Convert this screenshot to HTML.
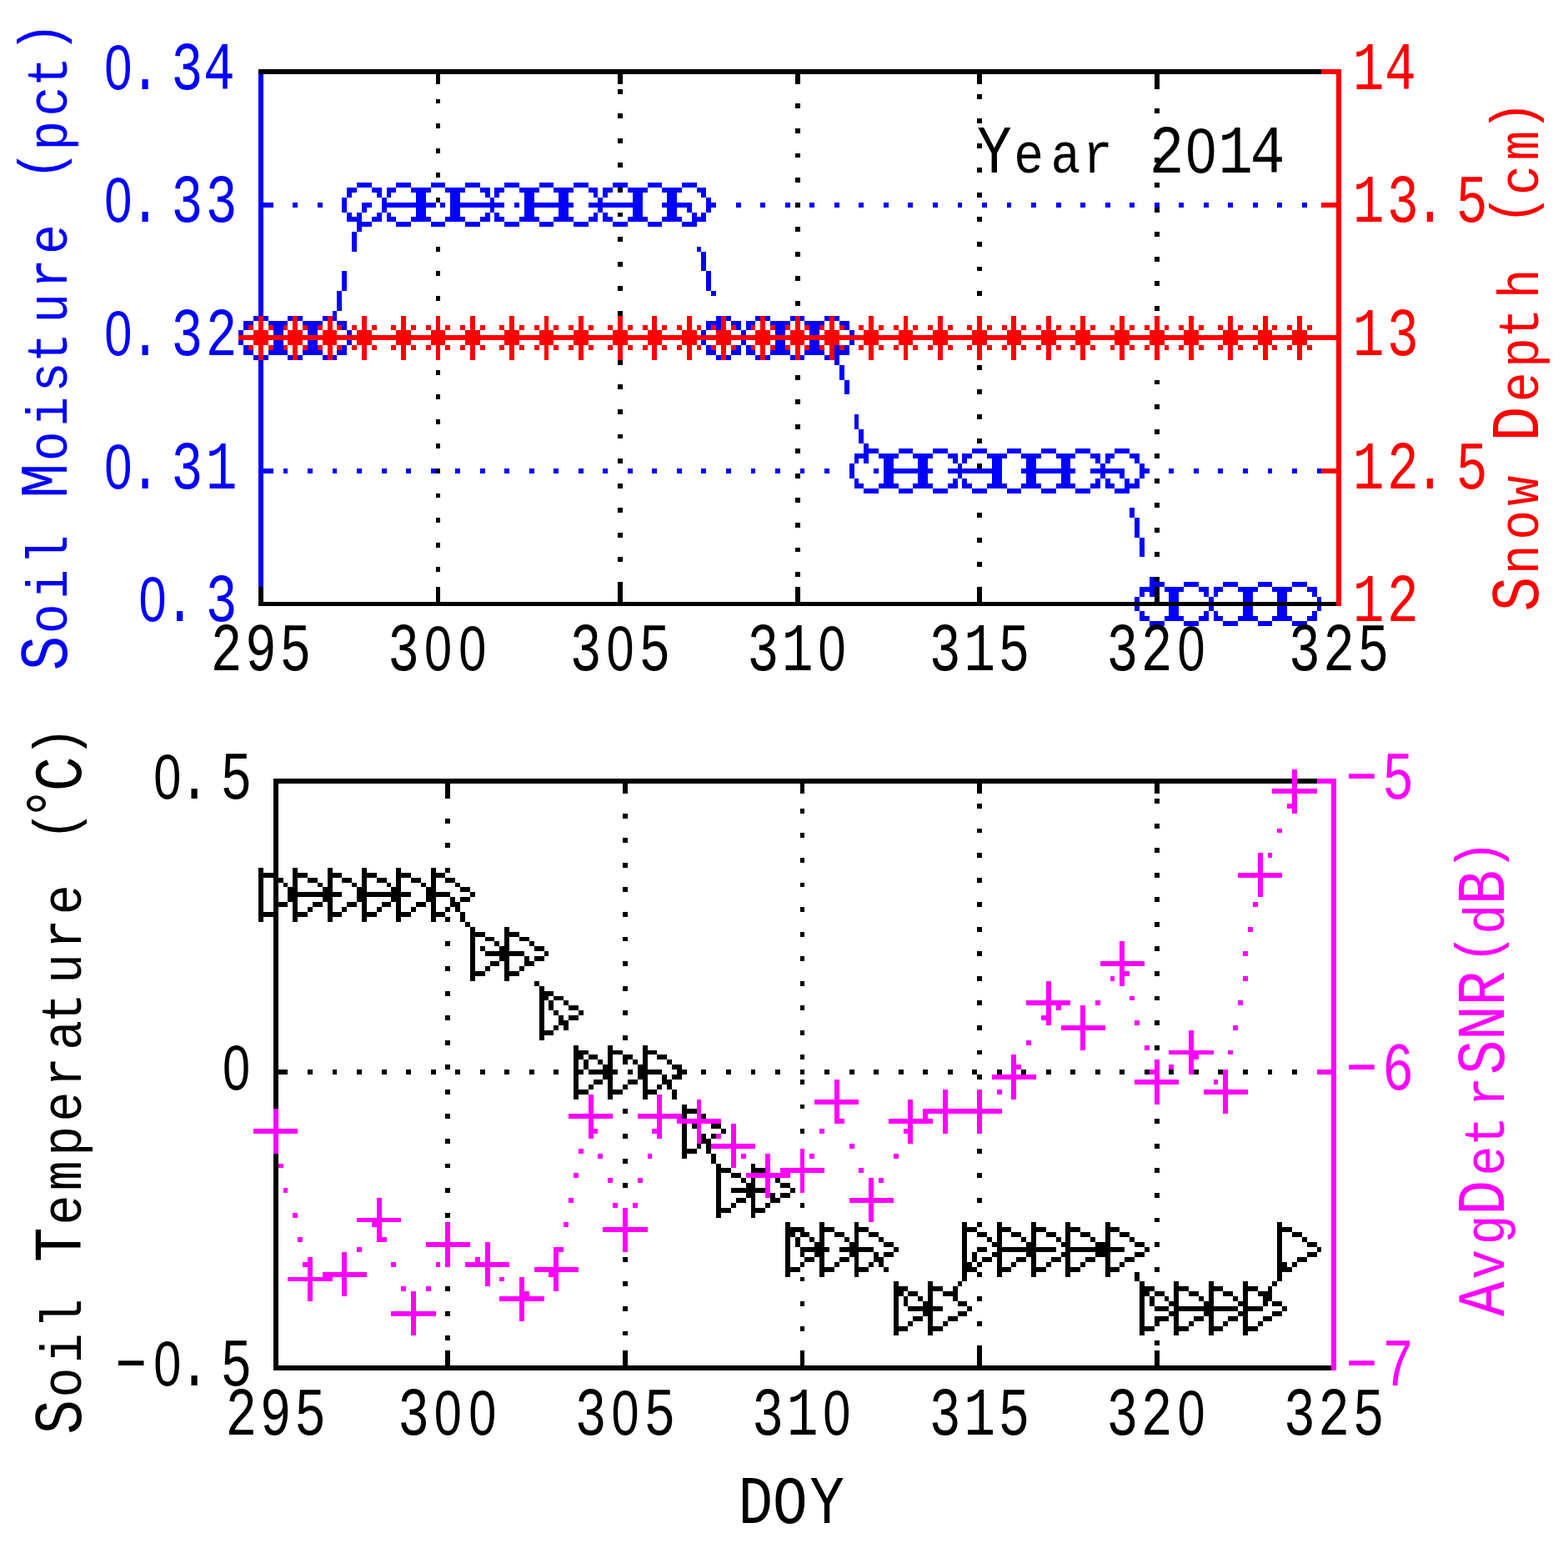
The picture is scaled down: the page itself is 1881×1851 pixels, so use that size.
<!DOCTYPE html>
<html><head><meta charset="utf-8"><style>
html,body{margin:0;padding:0;background:#fff;}
svg{display:block;}
text{font-family:"Liberation Mono",monospace;font-size:13.66px;white-space:pre;}
</style></head><body>
<svg xmlns="http://www.w3.org/2000/svg" width="1881" height="1851" viewBox="0 0 1881 1851">
<rect width="1881" height="1851" fill="#fff"/>
<g shape-rendering="crispEdges">
<path fill="#000" d="M310 83h1275v6h-1275zM523 89h5v6h-5zM741 89h6v6h-6zM954 89h6v6h-6zM1172 89h6v6h-6zM1385 89h6v6h-6zM523 95h5v6h-5zM741 95h6v6h-6zM954 95h6v6h-6zM1172 95h6v6h-6zM1385 95h6v6h-6zM1385 101h6v6h-6zM741 107h6v6h-6zM1172 113h6v6h-6zM523 119h5v5h-5zM954 124h6v6h-6zM1385 130h6v6h-6zM741 136h6v6h-6zM1172 142h6v6h-6zM523 148h5v6h-5zM954 154h6v6h-6zM1385 160h6v6h-6zM741 166h6v6h-6zM1172 172h6v6h-6zM523 178h5v6h-5zM954 184h6v5h-6zM1385 189h6v6h-6zM741 195h6v6h-6zM1172 201h6v6h-6zM523 207h5v6h-5zM954 213h6v6h-6zM1385 219h6v6h-6zM741 225h6v6h-6zM1172 231h6v6h-6zM523 237h5v6h-5zM954 243h6v6h-6zM1385 249h6v6h-6zM741 255h6v5h-6zM1172 260h6v6h-6zM954 272h6v6h-6zM1385 278h6v6h-6zM741 284h6v6h-6zM1172 290h6v6h-6zM523 296h5v6h-5zM954 302h6v6h-6zM1385 308h6v6h-6zM741 314h6v6h-6zM1172 320h6v5h-6zM523 325h5v6h-5zM954 331h6v6h-6zM1385 337h6v6h-6zM741 343h6v6h-6zM1172 349h6v6h-6zM523 355h5v6h-5zM954 361h6v6h-6zM1385 367h6v6h-6zM741 373h6v6h-6zM741 432h6v6h-6zM1172 438h6v6h-6zM523 444h5v6h-5zM954 450h6v6h-6zM1385 456h6v5h-6zM741 461h6v6h-6zM1172 467h6v6h-6zM523 473h5v6h-5zM954 479h6v6h-6zM1385 485h6v6h-6zM741 491h6v6h-6zM1172 497h6v6h-6zM523 503h5v6h-5zM954 509h6v6h-6zM1385 515h6v6h-6zM741 521h6v5h-6zM1172 526h6v6h-6zM523 532h5v6h-5zM954 538h6v6h-6zM1385 544h6v6h-6zM741 550h6v6h-6zM1172 556h6v6h-6zM523 562h5v6h-5zM954 568h6v6h-6zM1385 574h6v6h-6zM741 580h6v6h-6zM523 592h5v5h-5zM954 597h6v6h-6zM1385 603h6v6h-6zM741 609h6v6h-6zM1172 615h6v6h-6zM523 621h5v6h-5zM954 627h6v6h-6zM1385 633h6v6h-6zM741 639h6v6h-6zM1172 645h6v6h-6zM523 651h5v6h-5zM954 657h6v5h-6zM1385 662h6v6h-6zM741 668h6v6h-6zM1172 674h6v6h-6zM523 680h5v6h-5zM954 686h6v6h-6zM1385 692h6v6h-6zM741 698h6v6h-6zM310 704h6v6h-6zM523 704h5v6h-5zM741 704h6v6h-6zM954 704h6v6h-6zM1172 704h6v6h-6zM1385 704h6v6h-6zM310 710h6v6h-6zM523 710h5v6h-5zM741 710h6v6h-6zM954 710h6v6h-6zM1172 710h6v6h-6zM1385 710h6v6h-6zM310 716h6v6h-6zM523 716h5v6h-5zM741 716h6v6h-6zM954 716h6v6h-6zM1172 716h6v6h-6zM1385 716h6v6h-6zM310 722h1293v5h-1293zM328 934h1222v6h-1222zM1556 934h24v6h-24zM328 940h6v6h-6zM534 940h6v6h-6zM747 940h6v6h-6zM960 940h5v6h-5zM1172 940h6v6h-6zM1385 940h6v6h-6zM328 946h6v6h-6zM534 946h6v6h-6zM747 946h6v6h-6zM960 946h5v6h-5zM1172 946h6v6h-6zM1385 946h6v6h-6zM328 952h6v6h-6zM534 952h6v6h-6zM328 958h6v6h-6zM1385 958h6v6h-6zM328 964h6v6h-6zM1172 964h6v6h-6zM328 970h6v6h-6zM960 970h5v6h-5zM328 976h6v6h-6zM747 976h6v6h-6zM328 982h6v6h-6zM534 982h6v6h-6zM328 988h6v6h-6zM1385 988h6v6h-6zM328 994h6v5h-6zM1172 994h6v5h-6zM328 999h6v6h-6zM960 999h5v6h-5zM328 1005h6v6h-6zM747 1005h6v6h-6zM328 1011h6v6h-6zM534 1011h6v6h-6zM328 1017h6v6h-6zM1385 1017h6v6h-6zM328 1023h6v6h-6zM1172 1023h6v6h-6zM328 1029h6v6h-6zM960 1029h5v6h-5zM328 1035h6v6h-6zM747 1035h6v6h-6zM310 1041h6v6h-6zM328 1041h6v6h-6zM351 1041h6v6h-6zM393 1041h6v6h-6zM434 1041h6v6h-6zM475 1041h6v6h-6zM517 1041h6v6h-6zM534 1041h6v6h-6zM310 1047h24v6h-24zM351 1047h18v6h-18zM393 1047h17v6h-17zM434 1047h18v6h-18zM475 1047h18v6h-18zM517 1047h17v6h-17zM1385 1047h6v6h-6zM310 1053h6v6h-6zM328 1053h12v6h-12zM351 1053h6v6h-6zM369 1053h12v6h-12zM393 1053h6v6h-6zM410 1053h12v6h-12zM434 1053h6v6h-6zM452 1053h12v6h-12zM475 1053h6v6h-6zM493 1053h12v6h-12zM517 1053h6v6h-6zM534 1053h12v6h-12zM1172 1053h6v6h-6zM310 1059h6v5h-6zM328 1059h6v5h-6zM340 1059h5v5h-5zM351 1059h6v5h-6zM381 1059h6v5h-6zM393 1059h6v5h-6zM422 1059h6v5h-6zM434 1059h6v5h-6zM464 1059h5v5h-5zM475 1059h6v5h-6zM505 1059h6v5h-6zM517 1059h6v5h-6zM546 1059h6v5h-6zM960 1059h5v5h-5zM310 1064h6v6h-6zM328 1064h6v6h-6zM345 1064h12v6h-12zM387 1064h12v6h-12zM428 1064h12v6h-12zM469 1064h12v6h-12zM511 1064h12v6h-12zM552 1064h12v6h-12zM747 1064h6v6h-6zM310 1070h6v6h-6zM328 1070h6v6h-6zM345 1070h65v6h-65zM428 1070h65v6h-65zM511 1070h29v6h-29zM564 1070h6v6h-6zM310 1076h6v6h-6zM328 1076h6v6h-6zM345 1076h12v6h-12zM387 1076h12v6h-12zM428 1076h12v6h-12zM469 1076h12v6h-12zM511 1076h12v6h-12zM540 1076h6v6h-6zM552 1076h12v6h-12zM1385 1076h6v6h-6zM310 1082h6v6h-6zM328 1082h17v6h-17zM351 1082h6v6h-6zM375 1082h12v6h-12zM393 1082h6v6h-6zM416 1082h12v6h-12zM434 1082h6v6h-6zM458 1082h11v6h-11zM475 1082h6v6h-6zM499 1082h12v6h-12zM517 1082h6v6h-6zM540 1082h12v6h-12zM1172 1082h6v6h-6zM310 1088h6v6h-6zM328 1088h6v6h-6zM351 1088h6v6h-6zM369 1088h6v6h-6zM393 1088h6v6h-6zM410 1088h6v6h-6zM434 1088h6v6h-6zM452 1088h6v6h-6zM475 1088h6v6h-6zM493 1088h6v6h-6zM517 1088h6v6h-6zM534 1088h6v6h-6zM546 1088h6v6h-6zM960 1088h5v6h-5zM310 1094h24v6h-24zM351 1094h18v6h-18zM393 1094h17v6h-17zM434 1094h18v6h-18zM475 1094h18v6h-18zM517 1094h17v6h-17zM552 1094h6v6h-6zM747 1094h6v6h-6zM310 1100h6v6h-6zM328 1100h6v6h-6zM351 1100h6v6h-6zM393 1100h6v6h-6zM434 1100h6v6h-6zM475 1100h6v6h-6zM517 1100h6v6h-6zM534 1100h6v6h-6zM552 1100h6v6h-6zM328 1106h6v6h-6zM558 1106h6v6h-6zM1385 1106h6v6h-6zM328 1112h6v6h-6zM564 1112h6v6h-6zM605 1112h6v6h-6zM1172 1112h6v6h-6zM328 1118h6v6h-6zM564 1118h18v6h-18zM605 1118h18v6h-18zM960 1118h5v6h-5zM328 1124h6v5h-6zM564 1124h6v5h-6zM582 1124h11v5h-11zM605 1124h6v5h-6zM623 1124h12v5h-12zM747 1124h6v5h-6zM328 1129h6v6h-6zM534 1129h6v6h-6zM564 1129h6v6h-6zM593 1129h6v6h-6zM605 1129h6v6h-6zM635 1129h6v6h-6zM328 1135h6v6h-6zM564 1135h6v6h-6zM576 1135h6v6h-6zM599 1135h12v6h-12zM641 1135h12v6h-12zM1385 1135h6v6h-6zM328 1141h6v6h-6zM564 1141h6v6h-6zM582 1141h47v6h-47zM653 1141h5v6h-5zM1172 1141h6v6h-6zM328 1147h6v6h-6zM564 1147h6v6h-6zM599 1147h12v6h-12zM629 1147h6v6h-6zM641 1147h12v6h-12zM960 1147h5v6h-5zM328 1153h6v6h-6zM564 1153h6v6h-6zM588 1153h11v6h-11zM605 1153h6v6h-6zM629 1153h12v6h-12zM747 1153h6v6h-6zM328 1159h6v6h-6zM534 1159h6v6h-6zM564 1159h6v6h-6zM582 1159h6v6h-6zM605 1159h6v6h-6zM623 1159h6v6h-6zM328 1165h6v6h-6zM564 1165h18v6h-18zM605 1165h18v6h-18zM1385 1165h6v6h-6zM328 1171h6v6h-6zM564 1171h6v6h-6zM605 1171h6v6h-6zM1172 1171h6v6h-6zM328 1177h6v6h-6zM641 1177h6v6h-6zM960 1177h5v6h-5zM328 1183h6v6h-6zM647 1183h6v6h-6zM747 1183h6v6h-6zM328 1189h6v6h-6zM534 1189h6v6h-6zM647 1189h17v6h-17zM328 1195h6v5h-6zM647 1195h11v5h-11zM664 1195h12v5h-12zM1385 1195h6v5h-6zM328 1200h6v6h-6zM647 1200h6v6h-6zM658 1200h6v6h-6zM676 1200h6v6h-6zM1172 1200h6v6h-6zM328 1206h6v6h-6zM647 1206h6v6h-6zM658 1206h6v6h-6zM682 1206h12v6h-12zM960 1206h5v6h-5zM328 1212h6v6h-6zM647 1212h6v6h-6zM664 1212h6v6h-6zM694 1212h6v6h-6zM747 1212h6v6h-6zM328 1218h6v6h-6zM534 1218h6v6h-6zM647 1218h6v6h-6zM670 1218h6v6h-6zM682 1218h12v6h-12zM328 1224h6v6h-6zM647 1224h6v6h-6zM670 1224h12v6h-12zM1385 1224h6v6h-6zM328 1230h6v6h-6zM647 1230h6v6h-6zM664 1230h6v6h-6zM676 1230h6v6h-6zM1172 1230h6v6h-6zM328 1236h6v6h-6zM647 1236h17v6h-17zM960 1236h5v6h-5zM328 1242h6v6h-6zM647 1242h6v6h-6zM747 1242h6v6h-6zM328 1248h6v6h-6zM534 1248h6v6h-6zM328 1254h6v6h-6zM688 1254h6v6h-6zM729 1254h6v6h-6zM771 1254h6v6h-6zM1385 1254h6v6h-6zM328 1260h6v5h-6zM688 1260h18v5h-18zM729 1260h18v5h-18zM771 1260h17v5h-17zM1172 1260h6v5h-6zM328 1265h6v6h-6zM688 1265h12v6h-12zM706 1265h11v6h-11zM729 1265h6v6h-6zM747 1265h12v6h-12zM771 1265h6v6h-6zM788 1265h12v6h-12zM960 1265h5v6h-5zM328 1271h6v6h-6zM688 1271h6v6h-6zM700 1271h6v6h-6zM717 1271h6v6h-6zM729 1271h6v6h-6zM747 1271h6v6h-6zM759 1271h6v6h-6zM771 1271h6v6h-6zM800 1271h6v6h-6zM328 1277h6v6h-6zM534 1277h6v6h-6zM688 1277h6v6h-6zM700 1277h6v6h-6zM723 1277h12v6h-12zM765 1277h12v6h-12zM806 1277h12v6h-12zM328 1283h17v6h-17zM369 1283h6v6h-6zM399 1283h5v6h-5zM428 1283h6v6h-6zM458 1283h6v6h-6zM487 1283h6v6h-6zM517 1283h6v6h-6zM546 1283h6v6h-6zM576 1283h6v6h-6zM605 1283h6v6h-6zM635 1283h6v6h-6zM664 1283h6v6h-6zM688 1283h12v6h-12zM706 1283h35v6h-35zM753 1283h6v6h-6zM765 1283h29v6h-29zM812 1283h12v6h-12zM841 1283h6v6h-6zM871 1283h6v6h-6zM901 1283h5v6h-5zM930 1283h6v6h-6zM960 1283h5v6h-5zM989 1283h6v6h-6zM1019 1283h6v6h-6zM1048 1283h6v6h-6zM1078 1283h6v6h-6zM1107 1283h6v6h-6zM1137 1283h6v6h-6zM1166 1283h6v6h-6zM1196 1283h6v6h-6zM1225 1283h6v6h-6zM1255 1283h6v6h-6zM1284 1283h6v6h-6zM1314 1283h6v6h-6zM1343 1283h6v6h-6zM1373 1283h6v6h-6zM1402 1283h6v6h-6zM1432 1283h6v6h-6zM1461 1283h6v6h-6zM1491 1283h6v6h-6zM1521 1283h5v6h-5zM1550 1283h6v6h-6zM328 1289h6v6h-6zM688 1289h6v6h-6zM723 1289h12v6h-12zM765 1289h12v6h-12zM794 1289h6v6h-6zM806 1289h12v6h-12zM1172 1289h6v6h-6zM328 1295h6v6h-6zM688 1295h6v6h-6zM712 1295h11v6h-11zM729 1295h6v6h-6zM753 1295h12v6h-12zM771 1295h6v6h-6zM794 1295h12v6h-12zM960 1295h5v6h-5zM328 1301h6v6h-6zM688 1301h6v6h-6zM706 1301h6v6h-6zM729 1301h6v6h-6zM747 1301h6v6h-6zM771 1301h6v6h-6zM788 1301h6v6h-6zM800 1301h6v6h-6zM328 1307h6v6h-6zM534 1307h6v6h-6zM688 1307h18v6h-18zM729 1307h18v6h-18zM771 1307h17v6h-17zM806 1307h6v6h-6zM328 1313h6v6h-6zM688 1313h6v6h-6zM729 1313h6v6h-6zM771 1313h6v6h-6zM806 1313h6v6h-6zM328 1319h6v6h-6zM328 1325h6v5h-6zM818 1325h6v5h-6zM960 1325h5v5h-5zM747 1330h6v6h-6zM818 1330h18v6h-18zM534 1336h6v6h-6zM818 1336h6v6h-6zM841 1336h6v6h-6zM1385 1342h6v6h-6zM818 1348h6v6h-6zM830 1348h6v6h-6zM853 1348h12v6h-12zM818 1354h6v6h-6zM865 1354h6v6h-6zM960 1354h5v6h-5zM747 1360h6v6h-6zM818 1360h6v6h-6zM841 1360h6v6h-6zM853 1360h6v6h-6zM534 1366h6v6h-6zM818 1366h6v6h-6zM841 1366h12v6h-12zM818 1372h6v6h-6zM836 1372h5v6h-5zM847 1372h6v6h-6zM1385 1372h6v6h-6zM818 1378h18v6h-18zM847 1378h6v6h-6zM1172 1378h6v6h-6zM328 1384h6v6h-6zM818 1384h6v6h-6zM853 1384h6v6h-6zM328 1390h6v6h-6zM747 1390h6v6h-6zM853 1390h6v6h-6zM328 1396h6v5h-6zM534 1396h6v5h-6zM859 1396h6v5h-6zM901 1396h5v5h-5zM328 1401h6v6h-6zM859 1401h18v6h-18zM901 1401h17v6h-17zM1385 1401h6v6h-6zM328 1407h6v6h-6zM859 1407h6v6h-6zM877 1407h12v6h-12zM1172 1407h6v6h-6zM328 1413h6v6h-6zM859 1413h6v6h-6zM889 1413h6v6h-6zM901 1413h5v6h-5zM930 1413h6v6h-6zM328 1419h6v6h-6zM747 1419h6v6h-6zM859 1419h6v6h-6zM895 1419h11v6h-11zM936 1419h12v6h-12zM328 1425h6v6h-6zM534 1425h6v6h-6zM859 1425h6v6h-6zM877 1425h41v6h-41zM948 1425h6v6h-6zM328 1431h6v6h-6zM859 1431h6v6h-6zM895 1431h11v6h-11zM924 1431h6v6h-6zM936 1431h12v6h-12zM1385 1431h6v6h-6zM328 1437h6v6h-6zM859 1437h6v6h-6zM883 1437h12v6h-12zM901 1437h5v6h-5zM924 1437h12v6h-12zM1172 1437h6v6h-6zM328 1443h6v6h-6zM859 1443h6v6h-6zM877 1443h6v6h-6zM901 1443h5v6h-5zM918 1443h6v6h-6zM960 1443h5v6h-5zM328 1449h6v6h-6zM859 1449h18v6h-18zM901 1449h17v6h-17zM328 1455h6v6h-6zM534 1455h6v6h-6zM859 1455h6v6h-6zM901 1455h5v6h-5zM328 1461h6v5h-6zM1385 1461h6v5h-6zM328 1466h6v6h-6zM942 1466h6v6h-6zM983 1466h6v6h-6zM1025 1466h5v6h-5zM1154 1466h6v6h-6zM1172 1466h6v6h-6zM1196 1466h6v6h-6zM1237 1466h6v6h-6zM1278 1466h6v6h-6zM1326 1466h6v6h-6zM1532 1466h6v6h-6zM328 1472h6v6h-6zM942 1472h23v6h-23zM983 1472h18v6h-18zM1025 1472h17v6h-17zM1154 1472h18v6h-18zM1196 1472h17v6h-17zM1237 1472h18v6h-18zM1278 1472h18v6h-18zM1326 1472h17v6h-17zM1532 1472h18v6h-18zM328 1478h6v6h-6zM942 1478h12v6h-12zM960 1478h11v6h-11zM983 1478h6v6h-6zM1001 1478h12v6h-12zM1025 1478h5v6h-5zM1042 1478h12v6h-12zM1154 1478h6v6h-6zM1172 1478h12v6h-12zM1196 1478h6v6h-6zM1213 1478h12v6h-12zM1237 1478h6v6h-6zM1255 1478h12v6h-12zM1278 1478h6v6h-6zM1296 1478h12v6h-12zM1326 1478h6v6h-6zM1343 1478h12v6h-12zM1532 1478h6v6h-6zM1550 1478h12v6h-12zM328 1484h6v6h-6zM942 1484h6v6h-6zM954 1484h6v6h-6zM971 1484h6v6h-6zM983 1484h6v6h-6zM1013 1484h6v6h-6zM1025 1484h5v6h-5zM1054 1484h6v6h-6zM1154 1484h6v6h-6zM1184 1484h6v6h-6zM1196 1484h6v6h-6zM1225 1484h6v6h-6zM1237 1484h6v6h-6zM1267 1484h6v6h-6zM1278 1484h6v6h-6zM1308 1484h6v6h-6zM1326 1484h6v6h-6zM1355 1484h6v6h-6zM1532 1484h6v6h-6zM1562 1484h6v6h-6zM328 1490h6v6h-6zM942 1490h6v6h-6zM954 1490h6v6h-6zM977 1490h12v6h-12zM1019 1490h11v6h-11zM1060 1490h12v6h-12zM1154 1490h6v6h-6zM1190 1490h12v6h-12zM1231 1490h12v6h-12zM1273 1490h11v6h-11zM1314 1490h18v6h-18zM1361 1490h12v6h-12zM1385 1490h6v6h-6zM1532 1490h6v6h-6zM1568 1490h12v6h-12zM328 1496h6v6h-6zM942 1496h6v6h-6zM960 1496h35v6h-35zM1007 1496h41v6h-41zM1072 1496h6v6h-6zM1154 1496h6v6h-6zM1172 1496h12v6h-12zM1196 1496h71v6h-71zM1278 1496h71v6h-71zM1373 1496h6v6h-6zM1532 1496h6v6h-6zM1580 1496h5v6h-5zM328 1502h6v6h-6zM942 1502h6v6h-6zM960 1502h5v6h-5zM977 1502h12v6h-12zM1019 1502h11v6h-11zM1048 1502h6v6h-6zM1060 1502h12v6h-12zM1154 1502h6v6h-6zM1166 1502h6v6h-6zM1190 1502h12v6h-12zM1231 1502h12v6h-12zM1273 1502h11v6h-11zM1314 1502h18v6h-18zM1361 1502h12v6h-12zM1532 1502h6v6h-6zM1568 1502h12v6h-12zM328 1508h6v6h-6zM747 1508h6v6h-6zM942 1508h6v6h-6zM965 1508h12v6h-12zM983 1508h6v6h-6zM1007 1508h12v6h-12zM1025 1508h5v6h-5zM1048 1508h12v6h-12zM1154 1508h6v6h-6zM1166 1508h6v6h-6zM1178 1508h12v6h-12zM1196 1508h6v6h-6zM1219 1508h12v6h-12zM1237 1508h6v6h-6zM1261 1508h12v6h-12zM1278 1508h6v6h-6zM1302 1508h12v6h-12zM1326 1508h6v6h-6zM1349 1508h12v6h-12zM1532 1508h6v6h-6zM1556 1508h12v6h-12zM328 1514h6v6h-6zM942 1514h6v6h-6zM960 1514h5v6h-5zM983 1514h6v6h-6zM1001 1514h6v6h-6zM1025 1514h5v6h-5zM1042 1514h6v6h-6zM1054 1514h6v6h-6zM1154 1514h12v6h-12zM1172 1514h6v6h-6zM1196 1514h6v6h-6zM1213 1514h6v6h-6zM1237 1514h6v6h-6zM1255 1514h6v6h-6zM1278 1514h6v6h-6zM1296 1514h6v6h-6zM1326 1514h6v6h-6zM1343 1514h6v6h-6zM1532 1514h12v6h-12zM1550 1514h6v6h-6zM328 1520h6v6h-6zM942 1520h18v6h-18zM983 1520h18v6h-18zM1025 1520h17v6h-17zM1060 1520h6v6h-6zM1154 1520h18v6h-18zM1196 1520h17v6h-17zM1237 1520h18v6h-18zM1278 1520h18v6h-18zM1326 1520h17v6h-17zM1385 1520h6v6h-6zM1532 1520h18v6h-18zM328 1526h6v6h-6zM942 1526h6v6h-6zM983 1526h6v6h-6zM1025 1526h5v6h-5zM1154 1526h6v6h-6zM1172 1526h6v6h-6zM1196 1526h6v6h-6zM1237 1526h6v6h-6zM1278 1526h6v6h-6zM1326 1526h6v6h-6zM1361 1526h6v6h-6zM1532 1526h6v6h-6zM328 1532h6v5h-6zM960 1532h5v5h-5zM1154 1532h6v5h-6zM1361 1532h6v5h-6zM1532 1532h6v5h-6zM328 1537h6v6h-6zM747 1537h6v6h-6zM1072 1537h6v6h-6zM1113 1537h6v6h-6zM1149 1537h5v6h-5zM1367 1537h6v6h-6zM1408 1537h6v6h-6zM1450 1537h6v6h-6zM1491 1537h6v6h-6zM1526 1537h6v6h-6zM328 1543h6v6h-6zM534 1543h6v6h-6zM1072 1543h17v6h-17zM1113 1543h18v6h-18zM1143 1543h6v6h-6zM1367 1543h18v6h-18zM1408 1543h18v6h-18zM1450 1543h17v6h-17zM1491 1543h18v6h-18zM1521 1543h5v6h-5zM328 1549h6v6h-6zM1072 1549h12v6h-12zM1089 1549h12v6h-12zM1113 1549h6v6h-6zM1131 1549h18v6h-18zM1367 1549h12v6h-12zM1385 1549h12v6h-12zM1408 1549h6v6h-6zM1426 1549h12v6h-12zM1450 1549h6v6h-6zM1467 1549h12v6h-12zM1491 1549h6v6h-6zM1509 1549h17v6h-17zM328 1555h6v6h-6zM1072 1555h6v6h-6zM1084 1555h5v6h-5zM1101 1555h6v6h-6zM1113 1555h6v6h-6zM1143 1555h6v6h-6zM1172 1555h6v6h-6zM1367 1555h6v6h-6zM1379 1555h6v6h-6zM1397 1555h5v6h-5zM1408 1555h6v6h-6zM1438 1555h6v6h-6zM1450 1555h6v6h-6zM1479 1555h6v6h-6zM1491 1555h6v6h-6zM1515 1555h11v6h-11zM328 1561h6v6h-6zM960 1561h5v6h-5zM1072 1561h6v6h-6zM1084 1561h5v6h-5zM1107 1561h12v6h-12zM1149 1561h11v6h-11zM1367 1561h6v6h-6zM1379 1561h6v6h-6zM1402 1561h12v6h-12zM1444 1561h12v6h-12zM1485 1561h12v6h-12zM1515 1561h6v6h-6zM1526 1561h12v6h-12zM328 1567h6v6h-6zM747 1567h6v6h-6zM1072 1567h6v6h-6zM1089 1567h42v6h-42zM1160 1567h6v6h-6zM1367 1567h6v6h-6zM1385 1567h17v6h-17zM1408 1567h77v6h-77zM1491 1567h24v6h-24zM1538 1567h6v6h-6zM328 1573h6v6h-6zM534 1573h6v6h-6zM1072 1573h6v6h-6zM1107 1573h12v6h-12zM1149 1573h11v6h-11zM1367 1573h6v6h-6zM1402 1573h12v6h-12zM1444 1573h12v6h-12zM1485 1573h12v6h-12zM1526 1573h12v6h-12zM328 1579h6v6h-6zM1072 1579h6v6h-6zM1095 1579h12v6h-12zM1113 1579h6v6h-6zM1137 1579h12v6h-12zM1367 1579h6v6h-6zM1385 1579h17v6h-17zM1408 1579h6v6h-6zM1432 1579h12v6h-12zM1450 1579h6v6h-6zM1473 1579h12v6h-12zM1491 1579h6v6h-6zM1515 1579h11v6h-11zM328 1585h6v6h-6zM1072 1585h6v6h-6zM1089 1585h6v6h-6zM1113 1585h6v6h-6zM1131 1585h6v6h-6zM1172 1585h6v6h-6zM1367 1585h6v6h-6zM1385 1585h6v6h-6zM1408 1585h6v6h-6zM1426 1585h6v6h-6zM1450 1585h6v6h-6zM1467 1585h6v6h-6zM1491 1585h6v6h-6zM1509 1585h6v6h-6zM328 1591h6v6h-6zM960 1591h5v6h-5zM1072 1591h17v6h-17zM1113 1591h18v6h-18zM1367 1591h18v6h-18zM1408 1591h18v6h-18zM1450 1591h17v6h-17zM1491 1591h18v6h-18zM328 1597h6v5h-6zM747 1597h6v5h-6zM1072 1597h6v5h-6zM1113 1597h6v5h-6zM1367 1597h6v5h-6zM1408 1597h6v5h-6zM1450 1597h6v5h-6zM1491 1597h6v5h-6zM328 1602h6v6h-6zM534 1602h6v6h-6zM328 1608h6v6h-6zM1385 1608h6v6h-6zM328 1614h6v6h-6zM1172 1614h6v6h-6zM328 1620h6v6h-6zM534 1620h6v6h-6zM747 1620h6v6h-6zM960 1620h5v6h-5zM1172 1620h6v6h-6zM1385 1620h6v6h-6zM328 1626h6v6h-6zM534 1626h6v6h-6zM747 1626h6v6h-6zM960 1626h5v6h-5zM1172 1626h6v6h-6zM1385 1626h6v6h-6zM328 1632h6v6h-6zM534 1632h6v6h-6zM747 1632h6v6h-6zM960 1632h5v6h-5zM1172 1632h6v6h-6zM1385 1632h6v6h-6zM328 1638h1269v6h-1269z"/>
<path fill="#00f" d="M310 89h6v6h-6zM310 95h6v6h-6zM310 101h6v6h-6zM310 107h6v6h-6zM310 113h6v6h-6zM310 119h6v5h-6zM310 124h6v6h-6zM310 130h6v6h-6zM310 136h6v6h-6zM310 142h6v6h-6zM310 148h6v6h-6zM310 154h6v6h-6zM310 160h6v6h-6zM310 166h6v6h-6zM310 172h6v6h-6zM310 178h6v6h-6zM310 184h6v5h-6zM310 189h6v6h-6zM310 195h6v6h-6zM310 201h6v6h-6zM310 207h6v6h-6zM310 213h6v6h-6zM310 219h6v6h-6zM428 219h18v6h-18zM475 219h18v6h-18zM517 219h17v6h-17zM558 219h18v6h-18zM605 219h18v6h-18zM647 219h17v6h-17zM688 219h18v6h-18zM735 219h18v6h-18zM777 219h17v6h-17zM818 219h18v6h-18zM310 225h6v6h-6zM416 225h12v6h-12zM446 225h12v6h-12zM464 225h11v6h-11zM493 225h24v6h-24zM534 225h24v6h-24zM576 225h12v6h-12zM593 225h12v6h-12zM623 225h24v6h-24zM664 225h24v6h-24zM706 225h11v6h-11zM723 225h12v6h-12zM753 225h24v6h-24zM794 225h24v6h-24zM836 225h11v6h-11zM310 231h6v6h-6zM416 231h6v6h-6zM452 231h6v6h-6zM464 231h5v6h-5zM499 231h12v6h-12zM540 231h12v6h-12zM582 231h6v6h-6zM593 231h6v6h-6zM629 231h12v6h-12zM670 231h12v6h-12zM712 231h5v6h-5zM723 231h6v6h-6zM759 231h12v6h-12zM800 231h12v6h-12zM841 231h6v6h-6zM310 237h6v6h-6zM410 237h6v6h-6zM458 237h6v6h-6zM499 237h12v6h-12zM540 237h12v6h-12zM588 237h5v6h-5zM629 237h12v6h-12zM670 237h12v6h-12zM717 237h6v6h-6zM759 237h12v6h-12zM800 237h12v6h-12zM847 237h6v6h-6zM310 243h18v6h-18zM351 243h6v6h-6zM381 243h6v6h-6zM410 243h6v6h-6zM434 243h12v6h-12zM458 243h65v6h-65zM528 243h6v6h-6zM540 243h65v6h-65zM617 243h6v6h-6zM629 243h59v6h-59zM706 243h65v6h-65zM794 243h36v6h-36zM847 243h12v6h-12zM883 243h6v6h-6zM912 243h6v6h-6zM942 243h6v6h-6zM971 243h6v6h-6zM1001 243h6v6h-6zM1030 243h6v6h-6zM1060 243h6v6h-6zM1089 243h6v6h-6zM1119 243h6v6h-6zM1149 243h5v6h-5zM1178 243h6v6h-6zM1208 243h5v6h-5zM1237 243h6v6h-6zM1267 243h6v6h-6zM1296 243h6v6h-6zM1326 243h6v6h-6zM1355 243h6v6h-6zM1385 243h6v6h-6zM1414 243h6v6h-6zM1444 243h6v6h-6zM1473 243h6v6h-6zM1503 243h6v6h-6zM1532 243h6v6h-6zM1562 243h6v6h-6zM310 249h6v6h-6zM410 249h6v6h-6zM434 249h6v6h-6zM458 249h6v6h-6zM499 249h12v6h-12zM540 249h12v6h-12zM588 249h5v6h-5zM629 249h12v6h-12zM670 249h12v6h-12zM717 249h6v6h-6zM759 249h12v6h-12zM800 249h12v6h-12zM824 249h6v6h-6zM847 249h6v6h-6zM310 255h6v5h-6zM416 255h6v5h-6zM428 255h6v5h-6zM452 255h6v5h-6zM464 255h5v5h-5zM499 255h12v5h-12zM540 255h12v5h-12zM582 255h6v5h-6zM593 255h6v5h-6zM629 255h12v5h-12zM670 255h12v5h-12zM712 255h5v5h-5zM723 255h6v5h-6zM759 255h12v5h-12zM800 255h12v5h-12zM830 255h6v5h-6zM841 255h6v5h-6zM310 260h6v6h-6zM416 260h18v6h-18zM446 260h12v6h-12zM464 260h11v6h-11zM493 260h24v6h-24zM534 260h24v6h-24zM576 260h12v6h-12zM593 260h12v6h-12zM623 260h24v6h-24zM664 260h24v6h-24zM706 260h11v6h-11zM723 260h12v6h-12zM753 260h24v6h-24zM794 260h24v6h-24zM830 260h17v6h-17zM310 266h6v6h-6zM428 266h18v6h-18zM475 266h18v6h-18zM517 266h17v6h-17zM558 266h18v6h-18zM605 266h18v6h-18zM647 266h17v6h-17zM688 266h18v6h-18zM735 266h18v6h-18zM777 266h17v6h-17zM818 266h18v6h-18zM310 272h6v6h-6zM428 272h6v6h-6zM310 278h6v6h-6zM422 278h6v6h-6zM310 284h6v6h-6zM422 284h6v6h-6zM310 290h6v6h-6zM422 290h6v6h-6zM310 296h6v6h-6zM422 296h6v6h-6zM836 296h5v6h-5zM310 302h6v6h-6zM841 302h6v6h-6zM310 308h6v6h-6zM841 308h6v6h-6zM310 314h6v6h-6zM841 314h6v6h-6zM310 320h6v5h-6zM841 320h6v5h-6zM310 325h6v6h-6zM410 325h6v6h-6zM847 325h6v6h-6zM310 331h6v6h-6zM410 331h6v6h-6zM847 331h6v6h-6zM310 337h6v6h-6zM410 337h6v6h-6zM847 337h6v6h-6zM310 343h6v6h-6zM410 343h6v6h-6zM847 343h6v6h-6zM310 349h6v6h-6zM404 349h6v6h-6zM853 349h6v6h-6zM310 355h6v6h-6zM404 355h6v6h-6zM310 361h6v6h-6zM404 361h6v6h-6zM310 367h6v6h-6zM404 367h6v6h-6zM310 373h6v6h-6zM399 373h5v6h-5zM304 379h6v6h-6zM316 379h6v6h-6zM345 379h6v6h-6zM357 379h6v6h-6zM387 379h6v6h-6zM399 379h5v6h-5zM859 379h6v6h-6zM871 379h6v6h-6zM906 379h6v6h-6zM918 379h6v6h-6zM948 379h6v6h-6zM960 379h5v6h-5zM989 379h6v6h-6zM1001 379h6v6h-6zM292 385h12v5h-12zM322 385h23v5h-23zM363 385h24v5h-24zM404 385h12v5h-12zM847 385h18v5h-18zM877 385h12v5h-12zM895 385h11v5h-11zM924 385h24v5h-24zM965 385h24v5h-24zM1007 385h12v5h-12zM292 390h6v6h-6zM328 390h12v6h-12zM369 390h12v6h-12zM410 390h6v6h-6zM847 390h6v6h-6zM859 390h6v6h-6zM883 390h6v6h-6zM895 390h6v6h-6zM930 390h12v6h-12zM971 390h12v6h-12zM1013 390h6v6h-6zM286 396h6v6h-6zM328 396h12v6h-12zM369 396h12v6h-12zM416 396h6v6h-6zM841 396h6v6h-6zM889 396h6v6h-6zM930 396h12v6h-12zM971 396h12v6h-12zM1019 396h6v6h-6zM286 408h6v6h-6zM328 408h12v6h-12zM369 408h12v6h-12zM416 408h6v6h-6zM841 408h6v6h-6zM889 408h6v6h-6zM930 408h12v6h-12zM971 408h12v6h-12zM1019 408h6v6h-6zM292 414h6v6h-6zM328 414h12v6h-12zM369 414h12v6h-12zM410 414h6v6h-6zM847 414h6v6h-6zM883 414h6v6h-6zM895 414h6v6h-6zM930 414h12v6h-12zM971 414h12v6h-12zM1001 414h6v6h-6zM1013 414h6v6h-6zM292 420h12v6h-12zM322 420h23v6h-23zM363 420h24v6h-24zM404 420h12v6h-12zM847 420h12v6h-12zM877 420h12v6h-12zM895 420h11v6h-11zM924 420h24v6h-24zM965 420h24v6h-24zM1001 420h18v6h-18zM304 426h6v6h-6zM316 426h6v6h-6zM345 426h6v6h-6zM357 426h6v6h-6zM387 426h6v6h-6zM399 426h5v6h-5zM859 426h6v6h-6zM871 426h6v6h-6zM906 426h6v6h-6zM918 426h6v6h-6zM948 426h6v6h-6zM960 426h5v6h-5zM989 426h6v6h-6zM1001 426h6v6h-6zM310 432h6v6h-6zM1001 432h6v6h-6zM310 438h6v6h-6zM1007 438h6v6h-6zM310 444h6v6h-6zM1007 444h6v6h-6zM310 450h6v6h-6zM1007 450h6v6h-6zM310 456h6v5h-6zM1013 456h6v5h-6zM310 461h6v6h-6zM1013 461h6v6h-6zM310 467h6v6h-6zM1013 467h6v6h-6zM310 473h6v6h-6zM310 479h6v6h-6zM310 485h6v6h-6zM310 491h6v6h-6zM310 497h6v6h-6zM1025 497h5v6h-5zM310 503h6v6h-6zM1025 503h5v6h-5zM310 509h6v6h-6zM1025 509h5v6h-5zM310 515h6v6h-6zM1030 515h6v6h-6zM310 521h6v5h-6zM1030 521h6v5h-6zM310 526h6v6h-6zM1030 526h6v6h-6zM310 532h6v6h-6zM1036 532h6v6h-6zM310 538h6v6h-6zM1036 538h18v6h-18zM1078 538h17v6h-17zM1119 538h18v6h-18zM1166 538h18v6h-18zM1208 538h17v6h-17zM1249 538h18v6h-18zM1290 538h18v6h-18zM1337 538h18v6h-18zM310 544h6v6h-6zM1025 544h17v6h-17zM1054 544h24v6h-24zM1095 544h24v6h-24zM1137 544h12v6h-12zM1154 544h12v6h-12zM1184 544h24v6h-24zM1225 544h24v6h-24zM1267 544h23v6h-23zM1308 544h12v6h-12zM1326 544h11v6h-11zM1355 544h12v6h-12zM310 550h6v6h-6zM1025 550h5v6h-5zM1036 550h6v6h-6zM1060 550h12v6h-12zM1101 550h12v6h-12zM1143 550h6v6h-6zM1154 550h6v6h-6zM1190 550h12v6h-12zM1231 550h12v6h-12zM1273 550h11v6h-11zM1314 550h6v6h-6zM1326 550h6v6h-6zM1361 550h6v6h-6zM310 556h6v6h-6zM1019 556h6v6h-6zM1060 556h12v6h-12zM1101 556h12v6h-12zM1149 556h5v6h-5zM1190 556h12v6h-12zM1231 556h12v6h-12zM1273 556h11v6h-11zM1320 556h6v6h-6zM1367 556h6v6h-6zM310 562h18v6h-18zM340 562h5v6h-5zM369 562h6v6h-6zM399 562h5v6h-5zM428 562h6v6h-6zM458 562h6v6h-6zM487 562h6v6h-6zM517 562h6v6h-6zM546 562h6v6h-6zM576 562h6v6h-6zM605 562h6v6h-6zM635 562h6v6h-6zM664 562h6v6h-6zM694 562h6v6h-6zM723 562h6v6h-6zM753 562h6v6h-6zM782 562h6v6h-6zM812 562h6v6h-6zM841 562h6v6h-6zM871 562h6v6h-6zM901 562h5v6h-5zM930 562h6v6h-6zM960 562h5v6h-5zM989 562h6v6h-6zM1019 562h6v6h-6zM1048 562h6v6h-6zM1060 562h59v6h-59zM1137 562h65v6h-65zM1225 562h65v6h-65zM1308 562h41v6h-41zM1367 562h12v6h-12zM1402 562h6v6h-6zM1432 562h6v6h-6zM1461 562h6v6h-6zM1491 562h6v6h-6zM1521 562h5v6h-5zM1550 562h6v6h-6zM1580 562h5v6h-5zM310 568h6v6h-6zM1019 568h6v6h-6zM1060 568h12v6h-12zM1101 568h12v6h-12zM1149 568h5v6h-5zM1190 568h12v6h-12zM1231 568h12v6h-12zM1273 568h11v6h-11zM1320 568h6v6h-6zM1343 568h6v6h-6zM1367 568h6v6h-6zM310 574h6v6h-6zM1025 574h5v6h-5zM1060 574h12v6h-12zM1101 574h12v6h-12zM1143 574h6v6h-6zM1154 574h6v6h-6zM1190 574h12v6h-12zM1231 574h12v6h-12zM1273 574h11v6h-11zM1314 574h6v6h-6zM1326 574h6v6h-6zM1349 574h6v6h-6zM1361 574h6v6h-6zM310 580h6v6h-6zM1025 580h11v6h-11zM1054 580h24v6h-24zM1095 580h24v6h-24zM1137 580h12v6h-12zM1154 580h12v6h-12zM1184 580h24v6h-24zM1225 580h24v6h-24zM1267 580h23v6h-23zM1308 580h12v6h-12zM1326 580h11v6h-11zM1349 580h18v6h-18zM310 586h6v6h-6zM1036 586h18v6h-18zM1078 586h17v6h-17zM1119 586h18v6h-18zM1166 586h18v6h-18zM1208 586h17v6h-17zM1249 586h18v6h-18zM1290 586h18v6h-18zM1337 586h18v6h-18zM310 592h6v5h-6zM310 597h6v6h-6zM310 603h6v6h-6zM310 609h6v6h-6zM1355 609h6v6h-6zM310 615h6v6h-6zM1355 615h6v6h-6zM310 621h6v6h-6zM1361 621h6v6h-6zM310 627h6v6h-6zM1361 627h6v6h-6zM310 633h6v6h-6zM1361 633h6v6h-6zM310 639h6v6h-6zM1361 639h6v6h-6zM310 645h6v6h-6zM1367 645h6v6h-6zM310 651h6v6h-6zM1367 651h6v6h-6zM310 657h6v5h-6zM1367 657h6v5h-6zM310 662h6v6h-6zM1367 662h6v6h-6zM310 668h6v6h-6zM310 674h6v6h-6zM310 680h6v6h-6zM310 686h6v6h-6zM310 692h6v6h-6zM1379 692h6v6h-6zM310 698h6v6h-6zM1379 698h18v6h-18zM1420 698h18v6h-18zM1467 698h18v6h-18zM1509 698h17v6h-17zM1550 698h18v6h-18zM1367 704h18v6h-18zM1397 704h23v6h-23zM1438 704h12v6h-12zM1456 704h11v6h-11zM1485 704h24v6h-24zM1526 704h24v6h-24zM1568 704h12v6h-12zM1367 710h6v6h-6zM1379 710h6v6h-6zM1402 710h12v6h-12zM1444 710h6v6h-6zM1456 710h5v6h-5zM1491 710h12v6h-12zM1532 710h12v6h-12zM1574 710h6v6h-6zM1361 716h6v6h-6zM1402 716h12v6h-12zM1450 716h6v6h-6zM1491 716h12v6h-12zM1532 716h12v6h-12zM1580 716h5v6h-5zM1361 727h6v6h-6zM1402 727h12v6h-12zM1450 727h6v6h-6zM1491 727h12v6h-12zM1532 727h12v6h-12zM1580 727h5v6h-5zM1367 733h6v6h-6zM1402 733h12v6h-12zM1444 733h6v6h-6zM1456 733h5v6h-5zM1491 733h12v6h-12zM1532 733h12v6h-12zM1574 733h6v6h-6zM1367 739h12v6h-12zM1397 739h23v6h-23zM1438 739h12v6h-12zM1456 739h11v6h-11zM1485 739h24v6h-24zM1526 739h24v6h-24zM1568 739h12v6h-12zM1379 745h18v6h-18zM1420 745h18v6h-18zM1467 745h18v6h-18zM1509 745h17v6h-17zM1550 745h18v6h-18z"/>
<path fill="#f00" d="M1585 83h24v6h-24zM1603 89h6v6h-6zM1603 95h6v6h-6zM1603 101h6v6h-6zM1603 107h6v6h-6zM1603 113h6v6h-6zM1603 119h6v5h-6zM1603 124h6v6h-6zM1603 130h6v6h-6zM1603 136h6v6h-6zM1603 142h6v6h-6zM1603 148h6v6h-6zM1603 154h6v6h-6zM1603 160h6v6h-6zM1603 166h6v6h-6zM1603 172h6v6h-6zM1603 178h6v6h-6zM1603 184h6v5h-6zM1603 189h6v6h-6zM1603 195h6v6h-6zM1603 201h6v6h-6zM1603 207h6v6h-6zM1603 213h6v6h-6zM1603 219h6v6h-6zM1603 225h6v6h-6zM1603 231h6v6h-6zM1603 237h6v6h-6zM1585 243h24v6h-24zM1603 249h6v6h-6zM1603 255h6v5h-6zM1603 260h6v6h-6zM1603 266h6v6h-6zM1603 272h6v6h-6zM1603 278h6v6h-6zM1603 284h6v6h-6zM1603 290h6v6h-6zM1603 296h6v6h-6zM1603 302h6v6h-6zM1603 308h6v6h-6zM1603 314h6v6h-6zM1603 320h6v5h-6zM1603 325h6v6h-6zM1603 331h6v6h-6zM1603 337h6v6h-6zM1603 343h6v6h-6zM1603 349h6v6h-6zM1603 355h6v6h-6zM1603 361h6v6h-6zM1603 367h6v6h-6zM1603 373h6v6h-6zM310 379h6v6h-6zM351 379h6v6h-6zM393 379h6v6h-6zM434 379h6v6h-6zM481 379h6v6h-6zM523 379h5v6h-5zM564 379h6v6h-6zM611 379h6v6h-6zM653 379h5v6h-5zM694 379h6v6h-6zM741 379h6v6h-6zM782 379h6v6h-6zM824 379h6v6h-6zM865 379h6v6h-6zM912 379h6v6h-6zM954 379h6v6h-6zM995 379h6v6h-6zM1042 379h6v6h-6zM1084 379h5v6h-5zM1125 379h6v6h-6zM1172 379h6v6h-6zM1213 379h6v6h-6zM1255 379h6v6h-6zM1296 379h6v6h-6zM1343 379h6v6h-6zM1385 379h6v6h-6zM1426 379h6v6h-6zM1473 379h6v6h-6zM1515 379h6v6h-6zM1556 379h6v6h-6zM1603 379h6v6h-6zM310 385h6v5h-6zM351 385h6v5h-6zM393 385h6v5h-6zM434 385h6v5h-6zM481 385h6v5h-6zM523 385h5v5h-5zM564 385h6v5h-6zM611 385h6v5h-6zM653 385h5v5h-5zM694 385h6v5h-6zM741 385h6v5h-6zM782 385h6v5h-6zM824 385h6v5h-6zM865 385h6v5h-6zM912 385h6v5h-6zM954 385h6v5h-6zM995 385h6v5h-6zM1042 385h6v5h-6zM1084 385h5v5h-5zM1125 385h6v5h-6zM1172 385h6v5h-6zM1213 385h6v5h-6zM1255 385h6v5h-6zM1296 385h6v5h-6zM1343 385h6v5h-6zM1385 385h6v5h-6zM1426 385h6v5h-6zM1473 385h6v5h-6zM1515 385h6v5h-6zM1556 385h6v5h-6zM1603 385h6v5h-6zM298 390h6v6h-6zM310 390h6v6h-6zM322 390h6v6h-6zM340 390h5v6h-5zM351 390h6v6h-6zM363 390h6v6h-6zM381 390h6v6h-6zM393 390h6v6h-6zM404 390h6v6h-6zM422 390h6v6h-6zM434 390h6v6h-6zM446 390h6v6h-6zM469 390h6v6h-6zM481 390h6v6h-6zM493 390h6v6h-6zM511 390h6v6h-6zM523 390h5v6h-5zM534 390h6v6h-6zM552 390h6v6h-6zM564 390h6v6h-6zM576 390h6v6h-6zM599 390h6v6h-6zM611 390h6v6h-6zM623 390h6v6h-6zM641 390h6v6h-6zM653 390h5v6h-5zM664 390h6v6h-6zM682 390h6v6h-6zM694 390h6v6h-6zM706 390h6v6h-6zM729 390h6v6h-6zM741 390h6v6h-6zM753 390h6v6h-6zM771 390h6v6h-6zM782 390h6v6h-6zM794 390h6v6h-6zM812 390h6v6h-6zM824 390h6v6h-6zM836 390h5v6h-5zM853 390h6v6h-6zM865 390h6v6h-6zM877 390h6v6h-6zM901 390h5v6h-5zM912 390h6v6h-6zM924 390h6v6h-6zM942 390h6v6h-6zM954 390h6v6h-6zM965 390h6v6h-6zM983 390h6v6h-6zM995 390h6v6h-6zM1007 390h6v6h-6zM1030 390h6v6h-6zM1042 390h6v6h-6zM1054 390h6v6h-6zM1072 390h6v6h-6zM1084 390h5v6h-5zM1095 390h6v6h-6zM1113 390h6v6h-6zM1125 390h6v6h-6zM1137 390h6v6h-6zM1160 390h6v6h-6zM1172 390h6v6h-6zM1184 390h6v6h-6zM1202 390h6v6h-6zM1213 390h6v6h-6zM1225 390h6v6h-6zM1243 390h6v6h-6zM1255 390h6v6h-6zM1267 390h6v6h-6zM1284 390h6v6h-6zM1296 390h6v6h-6zM1308 390h6v6h-6zM1332 390h5v6h-5zM1343 390h6v6h-6zM1355 390h6v6h-6zM1373 390h6v6h-6zM1385 390h6v6h-6zM1397 390h5v6h-5zM1414 390h6v6h-6zM1426 390h6v6h-6zM1438 390h6v6h-6zM1461 390h6v6h-6zM1473 390h6v6h-6zM1485 390h6v6h-6zM1503 390h6v6h-6zM1515 390h6v6h-6zM1526 390h6v6h-6zM1544 390h6v6h-6zM1556 390h6v6h-6zM1568 390h6v6h-6zM1603 390h6v6h-6zM304 396h18v6h-18zM345 396h18v6h-18zM387 396h17v6h-17zM428 396h18v6h-18zM475 396h18v6h-18zM517 396h17v6h-17zM558 396h18v6h-18zM605 396h18v6h-18zM647 396h17v6h-17zM688 396h18v6h-18zM735 396h18v6h-18zM777 396h17v6h-17zM818 396h18v6h-18zM859 396h18v6h-18zM906 396h18v6h-18zM948 396h17v6h-17zM989 396h18v6h-18zM1036 396h18v6h-18zM1078 396h17v6h-17zM1119 396h18v6h-18zM1166 396h18v6h-18zM1208 396h17v6h-17zM1249 396h18v6h-18zM1290 396h18v6h-18zM1337 396h18v6h-18zM1379 396h18v6h-18zM1420 396h18v6h-18zM1467 396h18v6h-18zM1509 396h17v6h-17zM1550 396h18v6h-18zM1603 396h6v6h-6zM286 402h1323v6h-1323zM304 408h18v6h-18zM345 408h18v6h-18zM387 408h17v6h-17zM428 408h18v6h-18zM475 408h18v6h-18zM517 408h17v6h-17zM558 408h18v6h-18zM605 408h18v6h-18zM647 408h17v6h-17zM688 408h18v6h-18zM735 408h18v6h-18zM777 408h17v6h-17zM818 408h18v6h-18zM859 408h18v6h-18zM906 408h18v6h-18zM948 408h17v6h-17zM989 408h18v6h-18zM1036 408h18v6h-18zM1078 408h17v6h-17zM1119 408h18v6h-18zM1166 408h18v6h-18zM1208 408h17v6h-17zM1249 408h18v6h-18zM1290 408h18v6h-18zM1337 408h18v6h-18zM1379 408h18v6h-18zM1420 408h18v6h-18zM1467 408h18v6h-18zM1509 408h17v6h-17zM1550 408h18v6h-18zM1603 408h6v6h-6zM298 414h6v6h-6zM310 414h6v6h-6zM322 414h6v6h-6zM340 414h5v6h-5zM351 414h6v6h-6zM363 414h6v6h-6zM381 414h6v6h-6zM393 414h6v6h-6zM404 414h6v6h-6zM422 414h6v6h-6zM434 414h6v6h-6zM446 414h6v6h-6zM469 414h6v6h-6zM481 414h6v6h-6zM493 414h6v6h-6zM511 414h6v6h-6zM523 414h5v6h-5zM534 414h6v6h-6zM552 414h6v6h-6zM564 414h6v6h-6zM576 414h6v6h-6zM599 414h6v6h-6zM611 414h6v6h-6zM623 414h6v6h-6zM641 414h6v6h-6zM653 414h5v6h-5zM664 414h6v6h-6zM682 414h6v6h-6zM694 414h6v6h-6zM706 414h6v6h-6zM729 414h6v6h-6zM741 414h6v6h-6zM753 414h6v6h-6zM771 414h6v6h-6zM782 414h6v6h-6zM794 414h6v6h-6zM812 414h6v6h-6zM824 414h6v6h-6zM836 414h5v6h-5zM853 414h6v6h-6zM865 414h6v6h-6zM877 414h6v6h-6zM901 414h5v6h-5zM912 414h6v6h-6zM924 414h6v6h-6zM942 414h6v6h-6zM954 414h6v6h-6zM965 414h6v6h-6zM983 414h6v6h-6zM995 414h6v6h-6zM1007 414h6v6h-6zM1030 414h6v6h-6zM1042 414h6v6h-6zM1054 414h6v6h-6zM1072 414h6v6h-6zM1084 414h5v6h-5zM1095 414h6v6h-6zM1113 414h6v6h-6zM1125 414h6v6h-6zM1137 414h6v6h-6zM1160 414h6v6h-6zM1172 414h6v6h-6zM1184 414h6v6h-6zM1202 414h6v6h-6zM1213 414h6v6h-6zM1225 414h6v6h-6zM1243 414h6v6h-6zM1255 414h6v6h-6zM1267 414h6v6h-6zM1284 414h6v6h-6zM1296 414h6v6h-6zM1308 414h6v6h-6zM1332 414h5v6h-5zM1343 414h6v6h-6zM1355 414h6v6h-6zM1373 414h6v6h-6zM1385 414h6v6h-6zM1397 414h5v6h-5zM1414 414h6v6h-6zM1426 414h6v6h-6zM1438 414h6v6h-6zM1461 414h6v6h-6zM1473 414h6v6h-6zM1485 414h6v6h-6zM1503 414h6v6h-6zM1515 414h6v6h-6zM1526 414h6v6h-6zM1544 414h6v6h-6zM1556 414h6v6h-6zM1568 414h6v6h-6zM1603 414h6v6h-6zM310 420h6v6h-6zM351 420h6v6h-6zM393 420h6v6h-6zM434 420h6v6h-6zM481 420h6v6h-6zM523 420h5v6h-5zM564 420h6v6h-6zM611 420h6v6h-6zM653 420h5v6h-5zM694 420h6v6h-6zM741 420h6v6h-6zM782 420h6v6h-6zM824 420h6v6h-6zM865 420h6v6h-6zM912 420h6v6h-6zM954 420h6v6h-6zM995 420h6v6h-6zM1042 420h6v6h-6zM1084 420h5v6h-5zM1125 420h6v6h-6zM1172 420h6v6h-6zM1213 420h6v6h-6zM1255 420h6v6h-6zM1296 420h6v6h-6zM1343 420h6v6h-6zM1385 420h6v6h-6zM1426 420h6v6h-6zM1473 420h6v6h-6zM1515 420h6v6h-6zM1556 420h6v6h-6zM1603 420h6v6h-6zM310 426h6v6h-6zM351 426h6v6h-6zM393 426h6v6h-6zM434 426h6v6h-6zM481 426h6v6h-6zM523 426h5v6h-5zM564 426h6v6h-6zM611 426h6v6h-6zM653 426h5v6h-5zM694 426h6v6h-6zM741 426h6v6h-6zM782 426h6v6h-6zM824 426h6v6h-6zM865 426h6v6h-6zM912 426h6v6h-6zM954 426h6v6h-6zM995 426h6v6h-6zM1042 426h6v6h-6zM1084 426h5v6h-5zM1125 426h6v6h-6zM1172 426h6v6h-6zM1213 426h6v6h-6zM1255 426h6v6h-6zM1296 426h6v6h-6zM1343 426h6v6h-6zM1385 426h6v6h-6zM1426 426h6v6h-6zM1473 426h6v6h-6zM1515 426h6v6h-6zM1556 426h6v6h-6zM1603 426h6v6h-6zM1603 432h6v6h-6zM1603 438h6v6h-6zM1603 444h6v6h-6zM1603 450h6v6h-6zM1603 456h6v5h-6zM1603 461h6v6h-6zM1603 467h6v6h-6zM1603 473h6v6h-6zM1603 479h6v6h-6zM1603 485h6v6h-6zM1603 491h6v6h-6zM1603 497h6v6h-6zM1603 503h6v6h-6zM1603 509h6v6h-6zM1603 515h6v6h-6zM1603 521h6v5h-6zM1603 526h6v6h-6zM1603 532h6v6h-6zM1603 538h6v6h-6zM1603 544h6v6h-6zM1603 550h6v6h-6zM1603 556h6v6h-6zM1585 562h24v6h-24zM1603 568h6v6h-6zM1603 574h6v6h-6zM1603 580h6v6h-6zM1603 586h6v6h-6zM1603 592h6v5h-6zM1603 597h6v6h-6zM1603 603h6v6h-6zM1603 609h6v6h-6zM1603 615h6v6h-6zM1603 621h6v6h-6zM1603 627h6v6h-6zM1603 633h6v6h-6zM1603 639h6v6h-6zM1603 645h6v6h-6zM1603 651h6v6h-6zM1603 657h6v5h-6zM1603 662h6v6h-6zM1603 668h6v6h-6zM1603 674h6v6h-6zM1603 680h6v6h-6zM1603 686h6v6h-6zM1603 692h6v6h-6zM1603 698h6v6h-6zM1603 704h6v6h-6zM1603 710h6v6h-6zM1603 716h6v6h-6zM1603 722h6v5h-6z"/>
<path fill="#f0f" d="M1550 923h6v5h-6zM1550 928h6v6h-6zM1550 934h6v6h-6zM1580 934h23v6h-23zM1550 940h6v6h-6zM1597 940h6v6h-6zM1526 946h54v6h-54zM1597 946h6v6h-6zM1550 952h6v6h-6zM1597 952h6v6h-6zM1550 958h6v6h-6zM1597 958h6v6h-6zM1544 964h12v6h-12zM1597 964h6v6h-6zM1550 970h6v6h-6zM1597 970h6v6h-6zM1597 976h6v6h-6zM1597 982h6v6h-6zM1597 988h6v6h-6zM1532 994h6v5h-6zM1597 994h6v5h-6zM1597 999h6v6h-6zM1597 1005h6v6h-6zM1597 1011h6v6h-6zM1597 1017h6v6h-6zM1509 1023h6v6h-6zM1521 1023h5v6h-5zM1597 1023h6v6h-6zM1509 1029h6v6h-6zM1597 1029h6v6h-6zM1509 1035h6v6h-6zM1597 1035h6v6h-6zM1509 1041h6v6h-6zM1597 1041h6v6h-6zM1485 1047h53v6h-53zM1597 1047h6v6h-6zM1509 1053h6v6h-6zM1597 1053h6v6h-6zM1509 1059h6v5h-6zM1597 1059h6v5h-6zM1509 1064h6v6h-6zM1597 1064h6v6h-6zM1509 1070h6v6h-6zM1597 1070h6v6h-6zM1597 1076h6v6h-6zM1503 1082h6v6h-6zM1597 1082h6v6h-6zM1597 1088h6v6h-6zM1597 1094h6v6h-6zM1597 1100h6v6h-6zM1597 1106h6v6h-6zM1497 1112h6v6h-6zM1597 1112h6v6h-6zM1597 1118h6v6h-6zM1597 1124h6v5h-6zM1343 1129h6v6h-6zM1597 1129h6v6h-6zM1343 1135h6v6h-6zM1597 1135h6v6h-6zM1343 1141h6v6h-6zM1491 1141h6v6h-6zM1597 1141h6v6h-6zM1343 1147h6v6h-6zM1597 1147h6v6h-6zM1320 1153h53v6h-53zM1597 1153h6v6h-6zM1343 1159h6v6h-6zM1597 1159h6v6h-6zM1343 1165h12v6h-12zM1597 1165h6v6h-6zM1332 1171h5v6h-5zM1343 1171h6v6h-6zM1491 1171h6v6h-6zM1597 1171h6v6h-6zM1255 1177h6v6h-6zM1343 1177h6v6h-6zM1597 1177h6v6h-6zM1255 1183h6v6h-6zM1597 1183h6v6h-6zM1255 1189h6v6h-6zM1597 1189h6v6h-6zM1255 1195h6v5h-6zM1355 1195h6v5h-6zM1597 1195h6v5h-6zM1231 1200h53v6h-53zM1314 1200h6v6h-6zM1485 1200h6v6h-6zM1597 1200h6v6h-6zM1255 1206h6v6h-6zM1267 1206h6v6h-6zM1296 1206h6v6h-6zM1597 1206h6v6h-6zM1255 1212h6v6h-6zM1296 1212h6v6h-6zM1597 1212h6v6h-6zM1249 1218h12v6h-12zM1296 1218h6v6h-6zM1597 1218h6v6h-6zM1255 1224h6v6h-6zM1296 1224h6v6h-6zM1361 1224h6v6h-6zM1597 1224h6v6h-6zM1273 1230h53v6h-53zM1479 1230h6v6h-6zM1597 1230h6v6h-6zM1296 1236h6v6h-6zM1426 1236h6v6h-6zM1597 1236h6v6h-6zM1296 1242h6v6h-6zM1426 1242h6v6h-6zM1597 1242h6v6h-6zM1231 1248h6v6h-6zM1296 1248h6v6h-6zM1426 1248h6v6h-6zM1597 1248h6v6h-6zM1296 1254h6v6h-6zM1373 1254h6v6h-6zM1426 1254h6v6h-6zM1597 1254h6v6h-6zM1402 1260h54v5h-54zM1473 1260h6v5h-6zM1597 1260h6v5h-6zM1213 1265h6v6h-6zM1426 1265h12v6h-12zM1597 1265h6v6h-6zM1213 1271h6v6h-6zM1385 1271h6v6h-6zM1426 1271h6v6h-6zM1597 1271h6v6h-6zM1213 1277h12v6h-12zM1385 1277h6v6h-6zM1402 1277h6v6h-6zM1426 1277h6v6h-6zM1597 1277h6v6h-6zM1213 1283h6v6h-6zM1379 1283h12v6h-12zM1426 1283h6v6h-6zM1467 1283h6v6h-6zM1580 1283h23v6h-23zM1190 1289h53v6h-53zM1385 1289h6v6h-6zM1467 1289h6v6h-6zM1597 1289h6v6h-6zM1001 1295h6v6h-6zM1213 1295h6v6h-6zM1361 1295h53v6h-53zM1456 1295h5v6h-5zM1467 1295h6v6h-6zM1597 1295h6v6h-6zM1001 1301h6v6h-6zM1213 1301h6v6h-6zM1385 1301h6v6h-6zM1467 1301h6v6h-6zM1597 1301h6v6h-6zM1001 1307h6v6h-6zM1131 1307h6v6h-6zM1172 1307h6v6h-6zM1196 1307h6v6h-6zM1213 1307h6v6h-6zM1385 1307h6v6h-6zM1444 1307h53v6h-53zM1597 1307h6v6h-6zM706 1313h6v6h-6zM788 1313h6v6h-6zM1001 1313h6v6h-6zM1131 1313h6v6h-6zM1172 1313h6v6h-6zM1213 1313h6v6h-6zM1385 1313h6v6h-6zM1467 1313h6v6h-6zM1597 1313h6v6h-6zM706 1319h6v6h-6zM788 1319h6v6h-6zM836 1319h5v6h-5zM977 1319h53v6h-53zM1089 1319h6v6h-6zM1131 1319h6v6h-6zM1172 1319h6v6h-6zM1385 1319h6v6h-6zM1467 1319h6v6h-6zM1597 1319h6v6h-6zM706 1325h6v5h-6zM788 1325h6v5h-6zM836 1325h5v5h-5zM1001 1325h6v5h-6zM1089 1325h6v5h-6zM1131 1325h6v5h-6zM1172 1325h6v5h-6zM1467 1325h6v5h-6zM1597 1325h6v5h-6zM328 1330h6v6h-6zM706 1330h6v6h-6zM788 1330h6v6h-6zM836 1330h5v6h-5zM1001 1330h6v6h-6zM1089 1330h6v6h-6zM1107 1330h95v6h-95zM1467 1330h6v6h-6zM1597 1330h6v6h-6zM328 1336h6v6h-6zM682 1336h53v6h-53zM765 1336h53v6h-53zM836 1336h5v6h-5zM1001 1336h6v6h-6zM1089 1336h6v6h-6zM1107 1336h6v6h-6zM1131 1336h6v6h-6zM1172 1336h6v6h-6zM1597 1336h6v6h-6zM328 1342h6v6h-6zM706 1342h6v6h-6zM788 1342h6v6h-6zM812 1342h53v6h-53zM1001 1342h12v6h-12zM1066 1342h53v6h-53zM1131 1342h6v6h-6zM1172 1342h6v6h-6zM1597 1342h6v6h-6zM328 1348h6v6h-6zM706 1348h6v6h-6zM788 1348h6v6h-6zM836 1348h5v6h-5zM877 1348h6v6h-6zM1089 1348h6v6h-6zM1131 1348h6v6h-6zM1172 1348h6v6h-6zM1597 1348h6v6h-6zM304 1354h53v6h-53zM706 1354h11v6h-11zM782 1354h12v6h-12zM836 1354h5v6h-5zM877 1354h6v6h-6zM983 1354h6v6h-6zM1084 1354h11v6h-11zM1131 1354h6v6h-6zM1172 1354h6v6h-6zM1597 1354h6v6h-6zM328 1360h6v6h-6zM706 1360h6v6h-6zM788 1360h6v6h-6zM836 1360h5v6h-5zM859 1360h6v6h-6zM877 1360h6v6h-6zM1089 1360h6v6h-6zM1597 1360h6v6h-6zM328 1366h6v6h-6zM836 1366h5v6h-5zM877 1366h6v6h-6zM1089 1366h6v6h-6zM1597 1366h6v6h-6zM328 1372h6v6h-6zM853 1372h53v6h-53zM1019 1372h6v6h-6zM1597 1372h6v6h-6zM328 1378h6v6h-6zM694 1378h6v6h-6zM877 1378h6v6h-6zM960 1378h5v6h-5zM1597 1378h6v6h-6zM717 1384h6v6h-6zM777 1384h5v6h-5zM877 1384h6v6h-6zM889 1384h6v6h-6zM918 1384h6v6h-6zM960 1384h5v6h-5zM971 1384h6v6h-6zM1072 1384h6v6h-6zM1597 1384h6v6h-6zM877 1390h6v6h-6zM918 1390h6v6h-6zM960 1390h5v6h-5zM1597 1390h6v6h-6zM334 1396h6v5h-6zM877 1396h6v5h-6zM918 1396h6v5h-6zM960 1396h5v5h-5zM1597 1396h6v5h-6zM918 1401h6v6h-6zM936 1401h53v6h-53zM1030 1401h6v6h-6zM1597 1401h6v6h-6zM688 1407h6v6h-6zM895 1407h53v6h-53zM960 1407h5v6h-5zM1597 1407h6v6h-6zM729 1413h6v6h-6zM765 1413h6v6h-6zM918 1413h6v6h-6zM960 1413h5v6h-5zM1042 1413h6v6h-6zM1054 1413h6v6h-6zM1597 1413h6v6h-6zM918 1419h6v6h-6zM960 1419h5v6h-5zM1042 1419h6v6h-6zM1597 1419h6v6h-6zM340 1425h5v6h-5zM918 1425h6v6h-6zM960 1425h5v6h-5zM1042 1425h6v6h-6zM1597 1425h6v6h-6zM918 1431h6v6h-6zM1042 1431h6v6h-6zM1597 1431h6v6h-6zM452 1437h6v6h-6zM682 1437h6v6h-6zM1019 1437h53v6h-53zM1597 1437h6v6h-6zM452 1443h6v6h-6zM735 1443h6v6h-6zM759 1443h6v6h-6zM1042 1443h6v6h-6zM1597 1443h6v6h-6zM452 1449h6v6h-6zM747 1449h6v6h-6zM1042 1449h6v6h-6zM1597 1449h6v6h-6zM351 1455h6v6h-6zM452 1455h6v6h-6zM747 1455h6v6h-6zM1042 1455h6v6h-6zM1597 1455h6v6h-6zM428 1461h53v5h-53zM747 1461h6v5h-6zM1042 1461h6v5h-6zM1597 1461h6v5h-6zM446 1466h12v6h-12zM534 1466h6v6h-6zM676 1466h6v6h-6zM747 1466h6v6h-6zM1597 1466h6v6h-6zM452 1472h6v6h-6zM534 1472h6v6h-6zM723 1472h54v6h-54zM1597 1472h6v6h-6zM452 1478h6v6h-6zM534 1478h6v6h-6zM747 1478h6v6h-6zM1597 1478h6v6h-6zM357 1484h6v6h-6zM452 1484h12v6h-12zM534 1484h6v6h-6zM747 1484h6v6h-6zM1597 1484h6v6h-6zM511 1490h53v6h-53zM582 1490h6v6h-6zM747 1490h6v6h-6zM1597 1490h6v6h-6zM428 1496h6v6h-6zM534 1496h6v6h-6zM582 1496h6v6h-6zM664 1496h12v6h-12zM747 1496h6v6h-6zM1597 1496h6v6h-6zM410 1502h6v6h-6zM534 1502h6v6h-6zM582 1502h6v6h-6zM664 1502h6v6h-6zM1597 1502h6v6h-6zM369 1508h6v6h-6zM410 1508h6v6h-6zM534 1508h6v6h-6zM570 1508h6v6h-6zM582 1508h6v6h-6zM664 1508h6v6h-6zM1597 1508h6v6h-6zM363 1514h12v6h-12zM410 1514h6v6h-6zM469 1514h6v6h-6zM523 1514h5v6h-5zM534 1514h6v6h-6zM558 1514h53v6h-53zM664 1514h6v6h-6zM1597 1514h6v6h-6zM369 1520h6v6h-6zM410 1520h6v6h-6zM582 1520h6v6h-6zM641 1520h53v6h-53zM1597 1520h6v6h-6zM369 1526h6v6h-6zM387 1526h53v6h-53zM582 1526h6v6h-6zM658 1526h12v6h-12zM1597 1526h6v6h-6zM345 1532h54v5h-54zM410 1532h6v5h-6zM582 1532h6v5h-6zM599 1532h6v5h-6zM623 1532h6v5h-6zM664 1532h6v5h-6zM1597 1532h6v5h-6zM369 1537h6v6h-6zM410 1537h6v6h-6zM582 1537h6v6h-6zM623 1537h6v6h-6zM664 1537h6v6h-6zM1597 1537h6v6h-6zM369 1543h6v6h-6zM410 1543h6v6h-6zM481 1543h6v6h-6zM511 1543h6v6h-6zM623 1543h6v6h-6zM664 1543h6v6h-6zM1597 1543h6v6h-6zM369 1549h6v6h-6zM410 1549h6v6h-6zM493 1549h6v6h-6zM623 1549h12v6h-12zM1597 1549h6v6h-6zM369 1555h6v6h-6zM493 1555h6v6h-6zM599 1555h54v6h-54zM1597 1555h6v6h-6zM493 1561h6v6h-6zM623 1561h6v6h-6zM1597 1561h6v6h-6zM493 1567h6v6h-6zM623 1567h6v6h-6zM1597 1567h6v6h-6zM469 1573h54v6h-54zM623 1573h6v6h-6zM1597 1573h6v6h-6zM493 1579h6v6h-6zM623 1579h6v6h-6zM1597 1579h6v6h-6zM493 1585h6v6h-6zM1597 1585h6v6h-6zM493 1591h6v6h-6zM1597 1591h6v6h-6zM493 1597h6v5h-6zM1597 1597h6v5h-6zM1597 1602h6v6h-6zM1597 1608h6v6h-6zM1597 1614h6v6h-6zM1597 1620h6v6h-6zM1597 1626h6v6h-6zM1597 1632h6v6h-6zM1597 1638h6v6h-6z"/>
</g>
<g transform="matrix(5.905 0 0 5.912 2.9525 0.3)">
<text transform="translate(20 18) scale(0.78 1)" fill="#00f"><tspan x="0.901" y="0.00" font-family="Liberation Sans" font-size="12.9">0</tspan><tspan x="7.440" y="0.00">.</tspan><tspan x="18.338" y="0.00">3</tspan><tspan x="26.671" y="0.00">4</tspan></text>
<text transform="translate(20 45) scale(0.78 1)" fill="#00f"><tspan x="0.901" y="0.00" font-family="Liberation Sans" font-size="12.9">0</tspan><tspan x="7.440" y="0.00">.</tspan><tspan x="18.338" y="0.00">3</tspan><tspan x="27.312" y="0.00">3</tspan></text>
<text transform="translate(20 72) scale(0.78 1)" fill="#00f"><tspan x="0.901" y="0.00" font-family="Liberation Sans" font-size="12.9">0</tspan><tspan x="7.440" y="0.00">.</tspan><tspan x="18.338" y="0.00">3</tspan><tspan x="27.312" y="0.00">2</tspan></text>
<text transform="translate(20 99) scale(0.78 1)" fill="#00f"><tspan x="0.901" y="0.00" font-family="Liberation Sans" font-size="12.9">0</tspan><tspan x="7.440" y="0.00">.</tspan><tspan x="18.338" y="0.00">3</tspan><tspan x="27.312" y="0.00">1</tspan></text>
<text transform="translate(27 126) scale(0.78 1)" fill="#00f"><tspan x="0.901" y="0.00" font-family="Liberation Sans" font-size="12.9">0</tspan><tspan x="7.440" y="0.00">.</tspan><tspan x="18.338" y="0.00">3</tspan></text>
<text transform="translate(274 18) scale(0.78 1)" fill="#f00"><tspan x="0.389" y="0.00">1</tspan><tspan x="8.723" y="0.00">4</tspan></text>
<text transform="translate(274 45) scale(0.78 1)" fill="#f00"><tspan x="0.389" y="0.00">1</tspan><tspan x="9.364" y="0.00">3</tspan><tspan x="16.415" y="0.00">.</tspan><tspan x="27.312" y="0.00">5</tspan></text>
<text transform="translate(274 72) scale(0.78 1)" fill="#f00"><tspan x="0.389" y="0.00">1</tspan><tspan x="9.364" y="0.00">3</tspan></text>
<text transform="translate(274 99) scale(0.78 1)" fill="#f00"><tspan x="0.389" y="0.00">1</tspan><tspan x="9.364" y="0.00">2</tspan><tspan x="16.415" y="0.00">.</tspan><tspan x="27.312" y="0.00">5</tspan></text>
<text transform="translate(274 126) scale(0.78 1)" fill="#f00"><tspan x="0.389" y="0.00">1</tspan><tspan x="9.364" y="0.00">2</tspan></text>
<text transform="translate(42 136) scale(0.78 1)" fill="#000"><tspan x="0.389" y="0.00">2</tspan><tspan x="9.364" y="0.00">9</tspan><tspan x="18.338" y="0.00">5</tspan></text>
<text transform="translate(78 136) scale(0.78 1)" fill="#000"><tspan x="0.389" y="0.00">3</tspan><tspan x="9.875" y="0.00" font-family="Liberation Sans" font-size="12.9">0</tspan><tspan x="18.850" y="0.00" font-family="Liberation Sans" font-size="12.9">0</tspan></text>
<text transform="translate(115 136) scale(0.78 1)" fill="#000"><tspan x="0.389" y="0.00">3</tspan><tspan x="9.875" y="0.00" font-family="Liberation Sans" font-size="12.9">0</tspan><tspan x="18.338" y="0.00">5</tspan></text>
<text transform="translate(151 136) scale(0.78 1)" fill="#000"><tspan x="0.389" y="0.00">3</tspan><tspan x="9.364" y="0.00">1</tspan><tspan x="18.850" y="0.00" font-family="Liberation Sans" font-size="12.9">0</tspan></text>
<text transform="translate(188 136) scale(0.78 1)" fill="#000"><tspan x="0.389" y="0.00">3</tspan><tspan x="9.364" y="0.00">1</tspan><tspan x="18.338" y="0.00">5</tspan></text>
<text transform="translate(224 136) scale(0.78 1)" fill="#000"><tspan x="0.389" y="0.00">3</tspan><tspan x="9.364" y="0.00">2</tspan><tspan x="18.850" y="0.00" font-family="Liberation Sans" font-size="12.9">0</tspan></text>
<text transform="translate(261 136) scale(0.78 1)" fill="#000"><tspan x="0.389" y="0.00">3</tspan><tspan x="9.364" y="0.00">2</tspan><tspan x="18.338" y="0.00">5</tspan></text>
<text transform="translate(198 35) scale(0.86 1)" fill="#000"><tspan x="-0.028" y="0.00">Y</tspan><tspan x="8.687" y="0.00" font-size="11.74">e</tspan><tspan x="17.408" y="0.00" font-size="11.74">a</tspan><tspan x="24.966" y="0.00" font-size="11.74">r</tspan> <tspan x="40.669" y="0.00">2</tspan><tspan x="49.321" y="0.00" font-family="Liberation Sans" font-size="12.9">0</tspan><tspan x="56.949" y="0.00">1</tspan><tspan x="64.507" y="0.00">4</tspan></text>
<text transform="translate(13 136) rotate(-90) scale(0.86 1)" fill="#00f"><tspan x="-0.028" y="0.00">S</tspan><tspan x="8.687" y="0.00" font-size="11.74">o</tspan><tspan x="16.827" y="0.00" font-size="11.74">i</tspan><tspan x="24.966" y="0.00" font-size="11.74">l</tspan> <tspan x="40.669" y="0.00">M</tspan><tspan x="49.385" y="0.00" font-size="11.74">o</tspan><tspan x="57.525" y="0.00" font-size="11.74">i</tspan><tspan x="65.664" y="0.00" font-size="11.74">s</tspan><tspan x="72.641" y="0.00" font-size="11.74">t</tspan><tspan x="81.943" y="0.00" font-size="11.74">u</tspan><tspan x="90.083" y="0.00" font-size="11.74">r</tspan><tspan x="98.222" y="0.00" font-size="11.74">e</tspan> <tspan x="115.646" y="-1.45" font-size="11.8">(</tspan><tspan x="122.641" y="0.00" font-size="11.74">p</tspan><tspan x="130.780" y="0.00" font-size="11.74">c</tspan><tspan x="137.757" y="0.00" font-size="11.74">t</tspan><tspan x="145.879" y="-1.45" font-size="11.8">)</tspan></text>
<text transform="translate(312 124) rotate(-90) scale(0.86 1)" fill="#f00"><tspan x="-0.028" y="0.00">S</tspan><tspan x="8.687" y="0.00" font-size="11.74">n</tspan><tspan x="16.827" y="0.00" font-size="11.74">o</tspan><tspan x="24.966" y="0.00" font-size="11.74">w</tspan> <tspan x="40.088" y="0.00">D</tspan><tspan x="49.385" y="0.00" font-size="11.74">e</tspan><tspan x="57.525" y="0.00" font-size="11.74">p</tspan><tspan x="64.501" y="0.00" font-size="11.74">t</tspan><tspan x="73.804" y="0.00" font-size="11.74">h</tspan> <tspan x="91.227" y="-1.45" font-size="11.8">(</tspan><tspan x="98.222" y="0.00" font-size="11.74">c</tspan><tspan x="106.362" y="0.00" font-size="11.74">m</tspan><tspan x="113.320" y="-1.45" font-size="11.8">)</tspan></text>
<text transform="translate(30 162) scale(0.78 1)" fill="#000"><tspan x="0.901" y="0.00" font-family="Liberation Sans" font-size="12.9">0</tspan><tspan x="7.440" y="0.00">.</tspan><tspan x="18.338" y="0.00">5</tspan></text>
<text transform="translate(44 221) scale(0.78 1)" fill="#000"><tspan x="0.901" y="0.00" font-family="Liberation Sans" font-size="12.9">0</tspan></text>
<text transform="translate(23 281) scale(0.78 1)" fill="#000"><tspan x="-0.124" y="0.00">−</tspan><tspan x="9.875" y="0.00" font-family="Liberation Sans" font-size="12.9">0</tspan><tspan x="16.415" y="0.00">.</tspan><tspan x="27.312" y="0.00">5</tspan></text>
<text transform="translate(273 162) scale(0.78 1)" fill="#f0f"><tspan x="-0.124" y="0.00">−</tspan><tspan x="9.364" y="0.00">5</tspan></text>
<text transform="translate(273 221) scale(0.78 1)" fill="#f0f"><tspan x="-0.124" y="0.00">−</tspan><tspan x="9.364" y="0.00">6</tspan></text>
<text transform="translate(273 281) scale(0.78 1)" fill="#f0f"><tspan x="-0.124" y="0.00">−</tspan><tspan x="9.364" y="0.00">7</tspan></text>
<text transform="translate(45 291) scale(0.78 1)" fill="#000"><tspan x="0.389" y="0.00">2</tspan><tspan x="9.364" y="0.00">9</tspan><tspan x="18.338" y="0.00">5</tspan></text>
<text transform="translate(80 291) scale(0.78 1)" fill="#000"><tspan x="0.389" y="0.00">3</tspan><tspan x="9.875" y="0.00" font-family="Liberation Sans" font-size="12.9">0</tspan><tspan x="18.850" y="0.00" font-family="Liberation Sans" font-size="12.9">0</tspan></text>
<text transform="translate(116 291) scale(0.78 1)" fill="#000"><tspan x="0.389" y="0.00">3</tspan><tspan x="9.875" y="0.00" font-family="Liberation Sans" font-size="12.9">0</tspan><tspan x="18.338" y="0.00">5</tspan></text>
<text transform="translate(152 291) scale(0.78 1)" fill="#000"><tspan x="0.389" y="0.00">3</tspan><tspan x="9.364" y="0.00">1</tspan><tspan x="18.850" y="0.00" font-family="Liberation Sans" font-size="12.9">0</tspan></text>
<text transform="translate(188 291) scale(0.78 1)" fill="#000"><tspan x="0.389" y="0.00">3</tspan><tspan x="9.364" y="0.00">1</tspan><tspan x="18.338" y="0.00">5</tspan></text>
<text transform="translate(224 291) scale(0.78 1)" fill="#000"><tspan x="0.389" y="0.00">3</tspan><tspan x="9.364" y="0.00">2</tspan><tspan x="18.850" y="0.00" font-family="Liberation Sans" font-size="12.9">0</tspan></text>
<text transform="translate(260 291) scale(0.78 1)" fill="#000"><tspan x="0.389" y="0.00">3</tspan><tspan x="9.364" y="0.00">2</tspan><tspan x="18.338" y="0.00">5</tspan></text>
<text transform="translate(150 309) scale(0.86 1)" fill="#000"><tspan x="-0.610" y="0.00">D</tspan><tspan x="7.530" y="0.00">O</tspan><tspan x="16.251" y="0.00">Y</tspan></text>
<text transform="translate(16 291) rotate(-90) scale(0.86 1)" fill="#000"><tspan x="-0.028" y="0.00">S</tspan><tspan x="8.687" y="0.00" font-size="11.74">o</tspan><tspan x="16.827" y="0.00" font-size="11.74">i</tspan><tspan x="24.966" y="0.00" font-size="11.74">l</tspan> <tspan x="40.669" y="0.00">T</tspan><tspan x="49.385" y="0.00" font-size="11.74">e</tspan><tspan x="57.525" y="0.00" font-size="11.74">m</tspan><tspan x="65.664" y="0.00" font-size="11.74">p</tspan><tspan x="73.804" y="0.00" font-size="11.74">e</tspan><tspan x="81.943" y="0.00" font-size="11.74">r</tspan><tspan x="90.664" y="0.00" font-size="11.74">a</tspan><tspan x="97.059" y="0.00" font-size="11.74">t</tspan><tspan x="106.362" y="0.00" font-size="11.74">u</tspan><tspan x="114.501" y="0.00" font-size="11.74">r</tspan><tspan x="122.641" y="0.00" font-size="11.74">e</tspan> <tspan x="140.065" y="-1.45" font-size="11.8">(</tspan><tspan x="144.739" y="-1.80">°</tspan><tspan x="151.716" y="0.00">C</tspan><tspan x="159.832" y="-1.45" font-size="11.8">)</tspan></text>
<text transform="translate(305 267) rotate(-90) scale(0.86 1)" fill="#f0f"><tspan x="-0.028" y="0.00">A</tspan><tspan x="8.687" y="0.00" font-size="11.74">v</tspan><tspan x="16.827" y="0.00" font-size="11.74">g</tspan><tspan x="23.809" y="0.00">D</tspan><tspan x="33.106" y="0.00" font-size="11.74">e</tspan><tspan x="40.083" y="0.00" font-size="11.74">t</tspan><tspan x="49.385" y="0.00" font-size="11.74">r</tspan><tspan x="56.949" y="0.00">S</tspan><tspan x="65.088" y="0.00">N</tspan><tspan x="73.228" y="0.00">R</tspan><tspan x="83.088" y="-1.45" font-size="11.8">(</tspan><tspan x="90.083" y="0.00" font-size="11.74">d</tspan><tspan x="97.065" y="0.00">B</tspan><tspan x="105.181" y="-1.45" font-size="11.8">)</tspan></text>
</g>
</svg>
</body></html>
